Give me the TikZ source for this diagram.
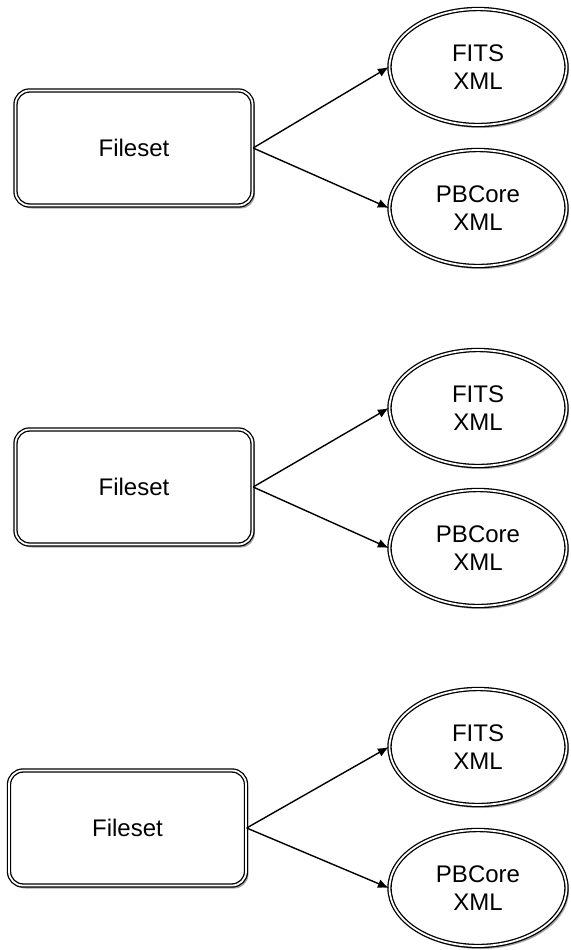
\documentclass[tikz,border=0pt]{standalone}
\usepackage{fontspec}
\setmainfont{Liberation Sans}
\usetikzlibrary{shapes.geometric,shadows,arrows.meta}
\tikzset{
  dbl/.style={draw=black, double=white, double distance=0.9pt, line width=0.65pt, fill=white,
    drop shadow={shadow xshift=1.2pt, shadow yshift=-1.5pt, opacity=0.35, fill=black}},
  fileset/.style={dbl, rounded corners=7pt, minimum width=118.5pt, minimum height=57.5pt,
    inner sep=0pt, font=\fontsize{12}{14}\selectfont},
  xmlfile/.style={dbl, ellipse, minimum width=88.5pt, minimum height=58pt,
    inner sep=0pt, align=center, font=\fontsize{12}{14}\selectfont}
}
\begin{document}
\begin{tikzpicture}[x=0.5pt,y=-0.5pt,>={Latex[length=5.5pt,width=4.5pt]},line width=0.7pt]
\useasboundingbox(0,0) rectangle(571,950);
\begin{scope}
\node[fileset](fs1) at (134,148){Fileset};
\node[xmlfile](fits1) at (478,67){FITS\\XML};
\node[xmlfile](pb1) at (478,208){PBCore\\XML};
\draw[->](fs1.east)--(fits1.west);
\draw[->](fs1.east)--(pb1.west);
\end{scope}
\begin{scope}
\node[fileset](fs2) at (134,487){Fileset};
\node[xmlfile](fits2) at (478,408){FITS\\XML};
\node[xmlfile](pb2) at (478,548){PBCore\\XML};
\draw[->](fs2.east)--(fits2.west);
\draw[->](fs2.east)--(pb2.west);
\end{scope}
\begin{scope}
\node[fileset](fs3) at (127.5,828){Fileset};
\node[xmlfile](fits3) at (478,747){FITS\\XML};
\node[xmlfile](pb3) at (478,888){PBCore\\XML};
\draw[->](fs3.east)--(fits3.west);
\draw[->](fs3.east)--(pb3.west);
\end{scope}
\end{tikzpicture}
\end{document}
